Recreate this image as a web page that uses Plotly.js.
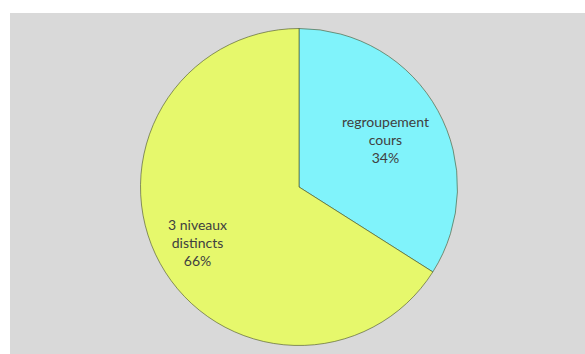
<!DOCTYPE html>
<html>
<head>
<meta charset="utf-8">
<script src="https://cdn.plot.ly/plotly-3.0.1.min.js"></script>
<style>
html,body{margin:0;padding:0;background:#ffffff;width:585px;height:354px;overflow:hidden;}
#chart{position:absolute;left:10px;top:13px;width:575px;height:341px;}
</style>
</head>
<body>
<div id="chart"></div>
<script>
const labels = ["regroupement cours", "3 niveaux distincts"];
const labelLines = ["regroupement<br>cours", "3 niveaux<br>distincts"];
const values = [34, 66];
const colors = ["#80f3fb", "#e6f86c"];
const labelRadius = [0.62, 0.73];

const W = 575, H = 341;
const cx = 289, cy = 174, R = 158.5;

const total = values.reduce((a, b) => a + b, 0);
const annotations = [];
let start = 0;
values.forEach((v, i) => {
  const mid = (start + v / 2) / total * 2 * Math.PI;
  start += v;
  const r = R * labelRadius[i];
  const px = cx + r * Math.sin(mid);
  const py = cy - r * Math.cos(mid);
  annotations.push({
    x: px / W, y: 1 - py / H, xref: "paper", yref: "paper",
    xanchor: "center", yanchor: "middle",
    text: labelLines[i] + "<br>" + Math.round(v / total * 100) + "%",
    showarrow: false, align: "center",
    font: {family: "Lato, 'Open Sans', sans-serif", size: 14, color: "#404040"}
  });
});

const trace = {
  type: "pie",
  labels: labels,
  values: values,
  sort: false,
  direction: "clockwise",
  rotation: 0,
  textinfo: "none",
  hoverinfo: "label+percent",
  marker: {colors: colors, line: {color: "rgba(70,80,40,0.6)", width: 1}},
  domain: {x: [(cx - R) / W, (cx + R) / W], y: [1 - (cy + R) / H, 1 - (cy - R) / H]},
  showlegend: false
};

Plotly.newPlot("chart", [trace], {
  width: W, height: H,
  margin: {l: 0, r: 0, t: 0, b: 0},
  paper_bgcolor: "#d9d9d9",
  showlegend: false,
  annotations: annotations
}, {displayModeBar: false, staticPlot: true});
</script>
</body>
</html>
